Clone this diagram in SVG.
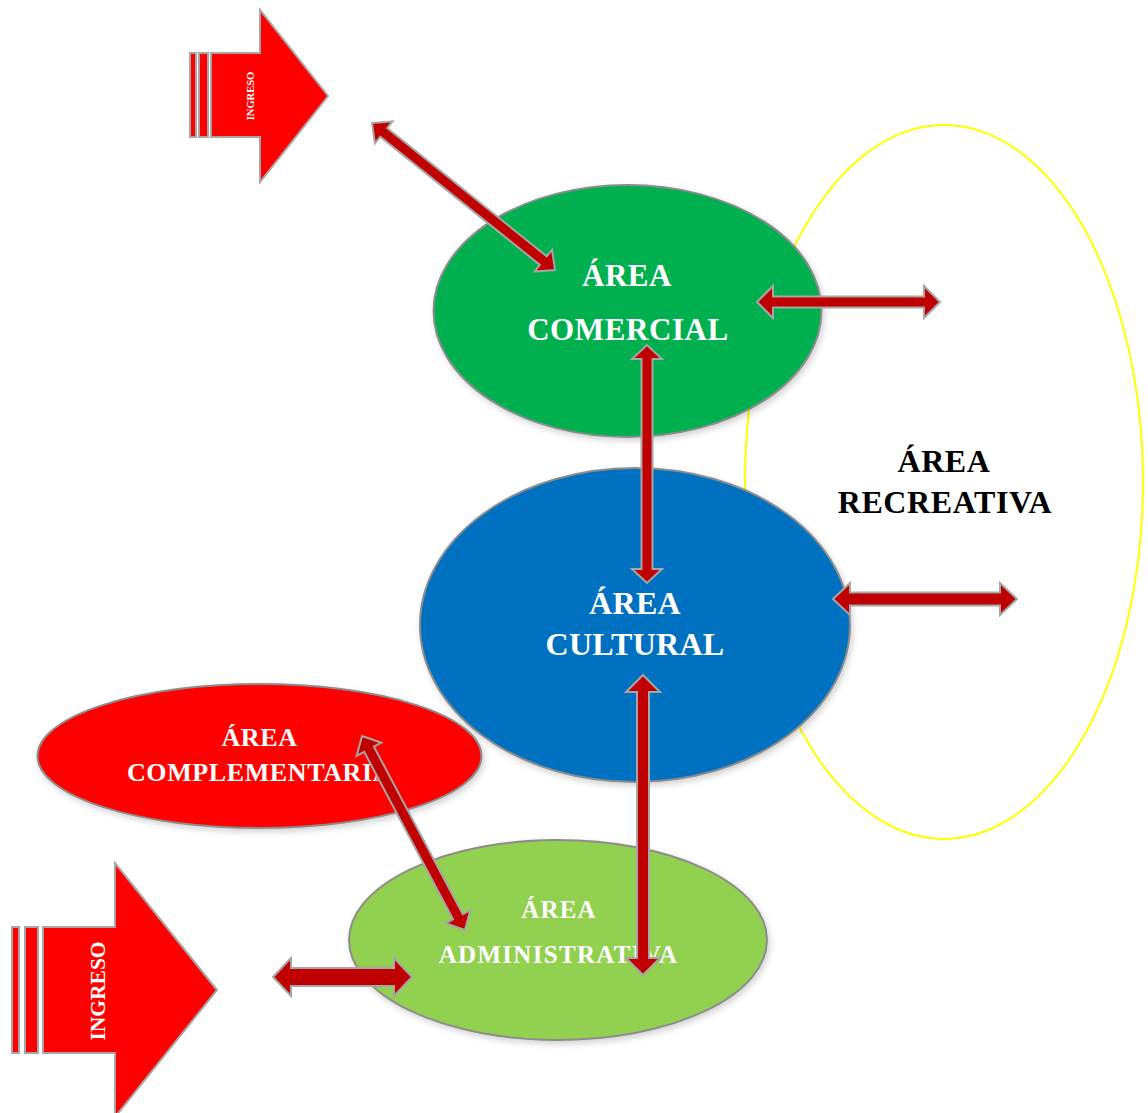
<svg xmlns="http://www.w3.org/2000/svg" width="1148" height="1113" viewBox="0 0 1148 1113">
<defs>
<filter id="sh" x="-10%" y="-10%" width="125%" height="125%">
<feDropShadow dx="2" dy="3" stdDeviation="3" flood-color="#000" flood-opacity="0.18"/>
</filter>
<style>
.node{stroke:#8c8c8c;stroke-width:2;filter:url(#sh)}
.lbl{font-family:"Liberation Serif","Times New Roman",serif;font-weight:bold;fill:#fff;text-anchor:middle}
.blk{fill:#000}
.arr{fill:#C00000;stroke:#A6A6A6;stroke-width:2;stroke-linejoin:miter}
.ing{fill:#FF0000;stroke:#A6A6A6;stroke-width:2}
</style>
</defs>
<rect width="1148" height="1113" fill="#fff"/>

<g id="area-recreativa">
<ellipse cx="944" cy="482" rx="199" ry="357" fill="#fff" stroke="#FFFF00" stroke-width="2"/>
<text class="lbl blk" x="944" y="472" font-size="32" letter-spacing="0.6">ÁREA</text>
<text class="lbl blk" x="945" y="513" font-size="32" letter-spacing="0.6">RECREATIVA</text>
</g>

<g id="area-comercial">
<ellipse class="node" cx="627.5" cy="311" rx="194" ry="126" fill="#00B050"/>
<text class="lbl" x="627" y="286" font-size="31" letter-spacing="0.5">ÁREA</text>
<text class="lbl" x="628" y="340" font-size="31" letter-spacing="0.6">COMERCIAL</text>
</g>

<g id="area-cultural">
<ellipse class="node" cx="635" cy="625" rx="215" ry="157" fill="#0070C0"/>
<text class="lbl" x="635" y="614" font-size="32" letter-spacing="0.3">ÁREA</text>
<text class="lbl" x="635" y="655" font-size="32" letter-spacing="0.3">CULTURAL</text>
</g>

<g id="area-complementaria">
<ellipse class="node" cx="259.5" cy="756" rx="222" ry="72" fill="#FF0000"/>
<text class="lbl" x="259.5" y="746" font-size="26" letter-spacing="0.6">ÁREA</text>
<text class="lbl" x="259.5" y="781" font-size="26" letter-spacing="0.6">COMPLEMENTARIA</text>
</g>

<g id="area-administrativa">
<ellipse class="node" cx="558" cy="940" rx="209" ry="100" fill="#92D050"/>
<text class="lbl" x="559" y="918" font-size="25" letter-spacing="1.2">ÁREA</text>
<text class="lbl" x="558.5" y="963" font-size="25" letter-spacing="1.3">ADMINISTRATIVA</text>
</g>

<g id="ingreso-superior">
<rect class="ing" x="190" y="53" width="6" height="84"/>
<rect class="ing" x="199" y="53" width="9" height="84"/>
<path class="ing" d="M211,53 L260,53 L260,10 L328,96 L260,182 L260,137 L211,137 Z"/>
<text class="lbl" x="0" y="0" font-size="10.5" dominant-baseline="central" transform="translate(250,96) rotate(-90)">INGRESO</text>
</g>

<g id="ingreso-inferior">
<rect class="ing" x="12" y="927" width="7" height="126"/>
<rect class="ing" x="25" y="927" width="13" height="126"/>
<path class="ing" d="M43,927 L115,927 L115,863 L217,990 L115,1117 L115,1053 L43,1053 Z"/>
<text class="lbl" x="0" y="0" font-size="21.5" dominant-baseline="central" transform="translate(98,991) rotate(-90)">INGRESO</text>
</g>

<g id="connectors">
<polygon class="arr" transform="translate(372,123) rotate(38.77)" points="0,0 15,-14 15,-5.5 219.7,-5.5 219.7,-14 234.7,0 219.7,14 219.7,5.5 15,5.5 15,14"/>
<polygon class="arr" transform="translate(757,302)" points="0,0 16,-16 16,-5.5 167,-5.5 167,-16 183,0 167,16 167,5.5 16,5.5 16,16"/>
<polygon class="arr" transform="translate(833,599)" points="0,0 17,-16 17,-6.5 167,-6.5 167,-16 184,0 167,16 167,6.5 17,6.5 17,16"/>
<polygon class="arr" transform="translate(647,345) rotate(90)" points="0,0 14,-15 14,-5.5 224,-5.5 224,-15 238,0 224,15 224,5.5 14,5.5 14,15"/>
<polygon class="arr" transform="translate(643,675) rotate(90)" points="0,0 17,-17 17,-6 283,-6 283,-17 300,0 283,17 283,6 17,6 17,17"/>
<polygon class="arr" transform="translate(362,736) rotate(62.04)" points="0,0 15,-14 15,-5.5 204.6,-5.5 204.6,-14 219.6,0 204.6,14 204.6,5.5 15,5.5 15,14"/>
<polygon class="arr" transform="translate(273,977)" points="0,0 18,-19 18,-9 121,-9 121,-19 139,0 121,19 121,9 18,9 18,19"/>
</g>
</svg>
